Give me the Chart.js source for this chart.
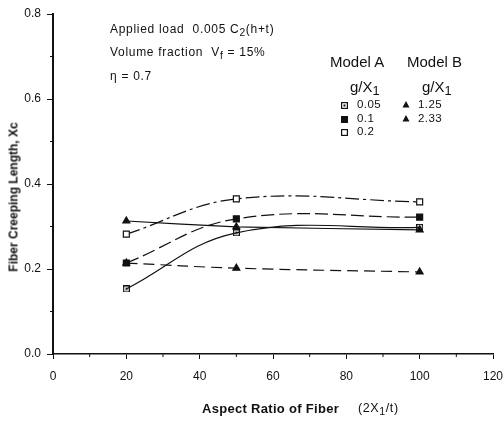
<!DOCTYPE html>
<html>
<head>
<meta charset="utf-8">
<script src="https://cdn.jsdelivr.net/npm/chart.js@4"></script>
<style>
  body { margin: 0; background: #fff; }
  #wrap { position: relative; width: 504px; height: 423px; font-family: "Liberation Sans", Arial, sans-serif; color: #111; }
  #wrap canvas { position: absolute; left: 0; top: 0; }
  .txt { position: absolute; white-space: nowrap; line-height: 1; }
  .note { font-size: 12px; left: 110px; letter-spacing: 0.7px; }
  .head { font-size: 15px; }
  .leg { font-size: 11.5px; letter-spacing: 0.4px; }
  sub { font-size: 85%; vertical-align: -3px; line-height: 0; }
</style>
</head>
<body>
<div id="wrap">
  <canvas id="chart" width="504" height="423"></canvas>
  <div class="txt note" style="top:23px;">Applied load&nbsp; 0.005 C<sub>2</sub>(h+t)</div>
  <div class="txt note" style="top:46px;">Volume fraction&nbsp; V<sub>f</sub> = 15%</div>
  <div class="txt note" style="top:70px;">&eta; = 0.7</div>
  <div class="txt head" style="left:330px; top:54px;">Model A</div>
  <div class="txt head" style="left:407px; top:54px;">Model B</div>
  <div class="txt head" style="left:350px; top:79px;">g/X<sub>1</sub></div>
  <div class="txt head" style="left:422px; top:79px;">g/X<sub>1</sub></div>
  <div class="txt leg" style="left:357px; top:99px;">0.05</div>
  <div class="txt leg" style="left:357px; top:113px;">0.1</div>
  <div class="txt leg" style="left:357px; top:126px;">0.2</div>
  <div class="txt leg" style="left:418px; top:99px;">1.25</div>
  <div class="txt leg" style="left:418px; top:113px;">2.33</div>
  <div class="txt" style="left:-79px; top:191px; width:185px; text-align:center; font-size:12px; font-weight:bold; transform:rotate(-90deg);">Fiber Creeping Length, Xc</div>
  <div class="txt" style="left:202px; top:402px; font-size:13px; font-weight:bold; letter-spacing:0.3px;">Aspect Ratio of Fiber</div>
  <div class="txt" style="left:358px; top:402px; font-size:12.5px; letter-spacing:0.6px;">(2X<sub>1</sub>/t)</div>
</div>
<script>
// values
const aspectRatio = [20, 50, 100];
const modelA005 = [0.153, 0.285, 0.298];
const modelA01 = [0.214, 0.318, 0.322];
const modelA02 = [0.282, 0.365, 0.358];
const modelB125 = [0.313, 0.299, 0.292];
const modelB233 = [0.214, 0.202, 0.193];

const ink = '#111';

// open square with a dot in the middle (g/X1 = 0.05)
const dotSquare = document.createElement('canvas');
dotSquare.width = 7; dotSquare.height = 7;
(function () {
    const c = dotSquare.getContext('2d');
    c.strokeStyle = ink; c.lineWidth = 1.2;
    c.strokeRect(0.6, 0.6, 5.8, 5.8);
    c.fillStyle = ink;
    c.fillRect(2.5, 2.5, 2, 2);
})();

function pts(ys) {
    return aspectRatio.map((x, i) => ({ x: x, y: ys[i] }));
}

function series(ys, style, dash, fill, tension) {
    return {
        data: pts(ys),
        borderColor: ink,
        borderWidth: 1.2,
        borderDash: dash,
        tension: tension,
        pointStyle: style,
        pointRadius: style === 'triangle' ? 4 : 4.2,
        pointBorderWidth: 1.2,
        pointBorderColor: ink,
        pointBackgroundColor: fill ? ink : '#fff'
    };
}

// minor ticks + legend markers
const extras = {
    id: 'extras',
    afterDraw(chart) {
        const ctx = chart.ctx;
        const xs = chart.scales.x, ys = chart.scales.y;
        ctx.save();
        ctx.strokeStyle = ink;
        ctx.lineWidth = 1;
        for (let v = 0.1; v < 0.8; v += 0.2) {
            const py = ys.getPixelForValue(v);
            ctx.beginPath(); ctx.moveTo(xs.left - 3, py); ctx.lineTo(xs.left, py); ctx.stroke();
        }
        for (let v = 10; v < 120; v += 20) {
            const px = xs.getPixelForValue(v);
            ctx.beginPath(); ctx.moveTo(px, ys.bottom); ctx.lineTo(px, ys.bottom + 3); ctx.stroke();
        }
        // legend markers
        ctx.drawImage(dotSquare, 341, 102);
        ctx.fillStyle = ink;
        ctx.fillRect(341, 116, 7, 7);
        ctx.lineWidth = 1.2;
        ctx.strokeRect(341.6, 129.6, 5.8, 5.8);
        [[406, 105], [406, 119]].forEach(([x, y]) => {
            ctx.beginPath();
            ctx.moveTo(x, y - 4); ctx.lineTo(x + 3.5, y + 2.5); ctx.lineTo(x - 3.5, y + 2.5);
            ctx.closePath(); ctx.fill();
        });
        ctx.restore();
    }
};

new Chart(document.getElementById('chart'), {
    type: 'line',
    data: {
        datasets: [
            series(modelA005, dotSquare, [], false, 0.4),
            series(modelA01, 'rect', [13, 5], true, 0.4),
            series(modelA02, 'rect', [14, 4, 3, 4], false, 0.4),
            series(modelB125, 'triangle', [], true, 0.1),
            series(modelB233, 'triangle', [11, 6], true, 0.4)
        ]
    },
    options: {
        responsive: false,
        animation: false,
        layout: { padding: { top: 14, right: 0, left: 0, bottom: 0 } },
        plugins: { legend: { display: false }, tooltip: { enabled: false } },
        scales: {
            x: {
                type: 'linear', min: 0, max: 120,
                border: { color: ink, width: 1.5 },
                grid: { drawOnChartArea: false, color: ink, tickLength: 5 },
                ticks: { stepSize: 20, color: ink, padding: 10, maxRotation: 0,
                    font: { family: 'Liberation Sans', size: 12 } },
                afterFit(s) { s.height = 69; s.paddingRight = 11; s.paddingLeft = 0; }
            },
            y: {
                min: 0, max: 0.8,
                border: { color: ink, width: 2 },
                grid: { drawOnChartArea: false, color: ink, tickLength: 6 },
                ticks: { stepSize: 0.2, color: ink, padding: 6,
                    callback: v => v.toFixed(1),
                    font: { family: 'Liberation Sans', size: 12 } },
                afterFit(s) { s.width = 53; s.paddingTop = 0; s.paddingBottom = 0; }
            }
        }
    },
    plugins: [extras]
});
</script>
</body>
</html>
